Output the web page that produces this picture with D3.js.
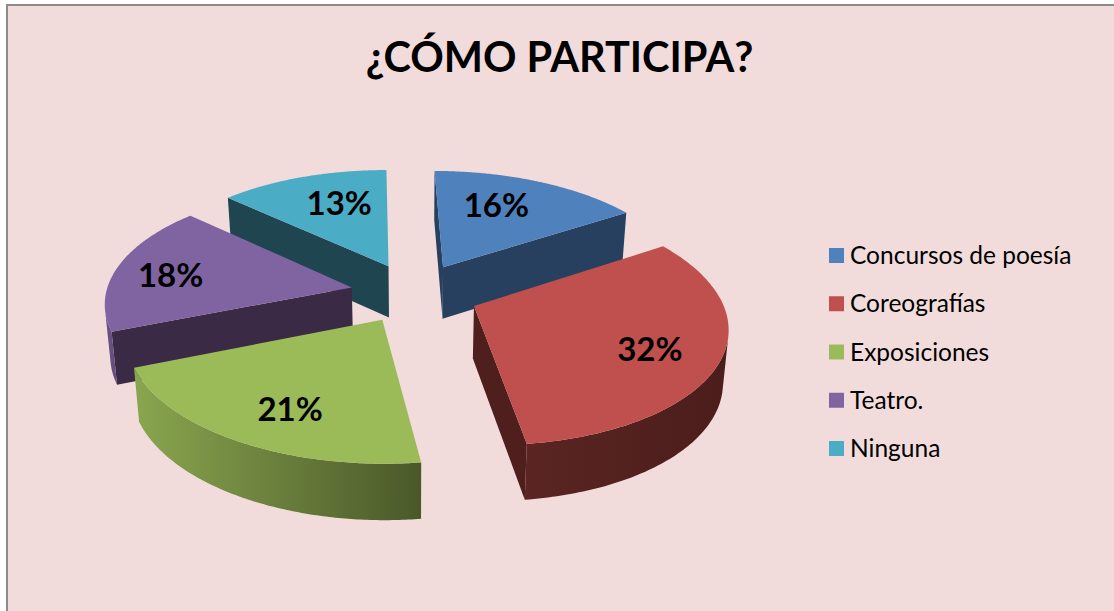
<!DOCTYPE html>
<html><head><meta charset="utf-8">
<script src="https://cdn.jsdelivr.net/npm/d3@7"></script>
<style>html,body{margin:0;padding:0;background:#fff;overflow:hidden}svg{display:block}text{font-family:Lato,"Open Sans",sans-serif}</style>
</head><body><svg id="c" width="1114" height="611"></svg>
<script>
const categories = ["Concursos de poesía","Coreografías","Exposiciones","Teatro.","Ninguna"];
const values = [16,32,21,18,13];
const labels = ["16%","32%","21%","18%","13%"];
const topColors = ["#4F81BD","#C0504D","#9BBB59","#8064A2","#4BACC6"];
const faceColors = ["#27405F","#4E1F1D","#4E5E2D","#3A2A45","#1E4550"];
const wallLeft = ["#27405F","#5A2522","#8AA64F","#6B5285","#1E4550"];
const wallRight = ["#3A5F8C","#4B1D1B","#4A5829","#3A2A45","#2E6A7A"];
const drawOrder = [0,4,3,1,2];
const labelNudge = [[-11,-4],[19,9],[-2,14],[-28,1],[9,-3]];

const cx=414.5, cy=293, R=246, flat=.472, persp=.137, explode=.26, skew=6;
const svg=d3.select("#c");
const defs=svg.append("defs");
svg.append("rect").attr("x",6).attr("y",4).attr("width",1108).attr("height",607).attr("fill","#8B8B8B");
svg.append("rect").attr("x",8).attr("y",6).attr("width",1106).attr("height",605).attr("fill","#F2DCDB");

function proj(x,y){const s=1/(1+persp*y);return {x:cx+(R*x-skew*y)*s,y:cy-R*flat*y*s,s};}
function lower(p){return {x:cx+(p.x-cx)*.982,y:p.y+30+22*p.s};}
const line=d3.line().x(d=>d.x).y(d=>d.y);
const area=q=>d3.polygonArea(q.map(d=>[d.x,d.y]));

const arcs=d3.pie().sort(null).startAngle(0).endAngle(2*Math.PI)(values);
const g=svg.append("g");
drawOrder.forEach(i=>{
  const a=arcs[i], mid=(a.startAngle+a.endAngle)/2;
  const ox=explode*Math.sin(mid), oy=explode*Math.cos(mid);
  const apex=proj(ox,oy);
  const angs=d3.range(0,121).map(k=>a.startAngle+(a.endAngle-a.startAngle)*k/120);
  const rim=angs.map(t=>proj(ox+Math.sin(t),oy+Math.cos(t)));
  const face=(p,q)=>{
    const poly=[p,q,lower(q),lower(p)];
    if(area(poly)>0) g.append("path").attr("d",line(poly)+"Z").attr("fill",faceColors[i]);
  };
  face(apex,rim[0]);
  face(rim[120],apex);
  const vis=d3.range(0,120).filter(k=>area([rim[k],rim[k+1],lower(rim[k+1]),lower(rim[k])])>0);
  if(vis.length){
    const top=[...vis.map(k=>rim[k]),rim[vis[vis.length-1]+1]];
    const xs=d3.extent(rim,d=>d.x);
    const grad=defs.append("linearGradient").attr("id","wall"+i).attr("gradientUnits","userSpaceOnUse")
      .attr("x1",xs[0]).attr("x2",xs[1]).attr("y1",0).attr("y2",0);
    grad.append("stop").attr("offset",0).attr("stop-color",wallLeft[i]);
    grad.append("stop").attr("offset",1).attr("stop-color",wallRight[i]);
    g.append("path").attr("d",line([...top,...top.map(lower).reverse()])+"Z").attr("fill",`url(#wall${i})`);
  }
  g.append("path").attr("d",line([apex,...rim])+"Z").attr("fill",topColors[i]);
});
arcs.forEach((a,i)=>{
  const mid=(a.startAngle+a.endAngle)/2;
  const rr=explode+.65;
  const p=proj(rr*Math.sin(mid),rr*Math.cos(mid));
  svg.append("text").attr("x",p.x+labelNudge[i][0]).attr("y",p.y+labelNudge[i][1]).attr("dy","0.36em")
    .attr("text-anchor","middle").attr("font-size",33).attr("font-weight",700).attr("fill","#000").text(labels[i]);
});
svg.append("text").attr("x",559.5).attr("y",72).attr("text-anchor","middle").attr("font-size",41.5).attr("font-weight",700).attr("fill","#000").text("¿CÓMO PARTICIPA?");
const ly=d3.scalePoint().domain(categories).range([255.5,448.5]);
categories.forEach((c,i)=>{
  svg.append("rect").attr("x",829).attr("y",ly(c)-7.5).attr("width",15).attr("height",15).attr("fill",topColors[i]);
  svg.append("text").attr("x",850).attr("y",ly(c)).attr("dy","0.35em").attr("font-size",24.5).attr("fill","#000").text(c);
});
</script></body></html>
